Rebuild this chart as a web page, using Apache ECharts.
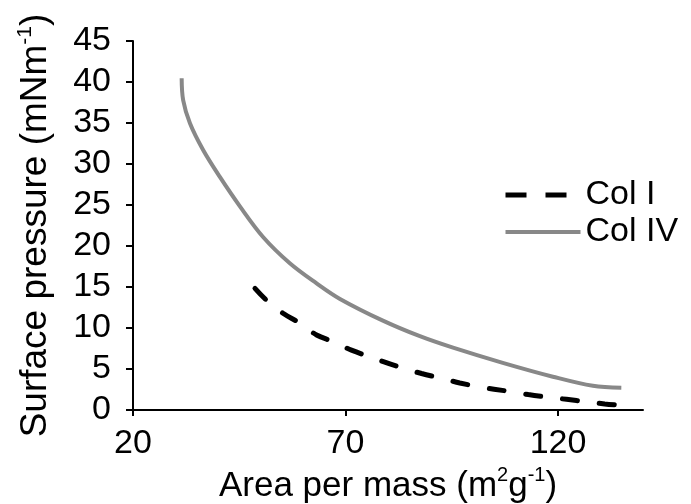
<!DOCTYPE html>
<html>
<head>
<meta charset="utf-8">
<script src="https://cdn.jsdelivr.net/npm/echarts@6/dist/echarts.min.js"></script>
<style>
html,body{margin:0;padding:0;background:#fff;}
#chart{width:691px;height:504px;}
</style>
</head>
<body>
<div id="chart"></div>
<script>
// Series names
var seriesNames = ['Col I', 'Col IV'];
// Col I (dashed black): [area per mass, surface pressure]
var colIx = [48.7, 51.4, 55.3, 59.3, 63.2, 67.1, 71.4, 78.9, 83.6, 87.9, 93.0, 96.9, 101.2, 108.7, 113.0, 117.7, 122.0, 126.7, 131.0, 135.5];
var colIy = [14.84, 13.4, 11.8, 10.57, 9.15, 8.33, 7.3, 5.9, 5.09, 4.45, 3.8, 3.3, 2.84, 2.25, 1.88, 1.55, 1.3, 1.0, 0.74, 0.55];
// Col IV (solid gray)
var colIVx = [31.45, 31.8, 33.4, 36.5, 40.4, 45.2, 50.6, 56.9, 63.2, 68.7, 78.8, 87.5, 95.3, 107.0, 118.8, 128.2, 134.9];
var colIVy = [40.45, 37.8, 34.96, 31.7, 28.45, 24.8, 21.1, 17.9, 15.45, 13.55, 10.9, 9.0, 7.6, 5.75, 4.06, 2.95, 2.72];
// Tick labels
var xTicks = [20, 70, 120];
var yTicks = [0, 5, 10, 15, 20, 25, 30, 35, 40, 45];

function pairs(xs, ys) { return xs.map(function (x, i) { return [x, ys[i]]; }); }

var FONT = 'Liberation Sans, Arial, sans-serif';
var chart = echarts.init(document.getElementById('chart'));
chart.setOption({
  animation: false,
  backgroundColor: '#fff',
  grid: { left: 133, right: 48, top: 41, bottom: 94, containLabel: false, outerBoundsMode: 'none' },
  legend: {
    orient: 'vertical',
    left: 503,
    top: 178,
    padding: 0,
    itemWidth: 75,
    itemHeight: 14,
    itemGap: 3,
    itemStyle: { color: 'rgba(0,0,0,0)', borderWidth: 0, opacity: 0 },
    textStyle: { fontFamily: FONT, fontSize: 34, color: '#000', lineHeight: 34, padding: [0, 0, 0, 0] },
    data: [
      { name: seriesNames[0], lineStyle: { type: [21, 19], cap: 'butt', width: 5, color: '#000' } },
      { name: seriesNames[1], lineStyle: { width: 4, color: '#888' } }
    ]
  },
  xAxis: {
    type: 'value',
    min: 20,
    max: 140,
    name: '{a|Area per mass (m}{s|2}{a|g}{s|-1}{a|)}',
    nameLocation: 'middle',
    nameGap: 52,
    nameTextStyle: {
      rich: {
        a: { fontFamily: FONT, fontSize: 35, color: '#000', lineHeight: 40 },
        s: { fontFamily: FONT, fontSize: 20, color: '#000', lineHeight: 20, verticalAlign: 'top' }
      }
    },
    axisLine: { show: true, onZero: false, lineStyle: { color: '#000', width: 2 } },
    axisTick: { show: true, length: 6, lineStyle: { color: '#000', width: 2 }, customValues: xTicks },
    axisLabel: { fontFamily: FONT, fontSize: 34, color: '#000', margin: 17, customValues: xTicks },
    splitLine: { show: false }
  },
  yAxis: {
    type: 'value',
    min: 0,
    max: 45,
    interval: 5,
    name: '{a|Surface pressure (mNm}{s|-1}{a|)}',
    nameLocation: 'middle',
    nameGap: 76,
    nameRotate: 90,
    nameTextStyle: {
      rich: {
        a: { fontFamily: FONT, fontSize: 37, color: '#000', lineHeight: 42 },
        s: { fontFamily: FONT, fontSize: 21, color: '#000', lineHeight: 21, verticalAlign: 'top' }
      }
    },
    axisLine: { show: true, onZero: false, lineStyle: { color: '#000', width: 2 } },
    axisTick: { show: true, length: 7, lineStyle: { color: '#000', width: 2 } },
    axisLabel: {
      fontFamily: FONT, fontSize: 34, color: '#000', margin: 22,
      formatter: function (v) { return yTicks.indexOf(v) >= 0 ? String(v) : ''; }
    },
    splitLine: { show: false }
  },
  series: [
    {
      name: seriesNames[0],
      type: 'line',
      data: pairs(colIx, colIy),
      smooth: 0.35,
      symbol: 'none',
      z: 3,
      lineStyle: { color: '#000', width: 5, type: [15, 22], cap: 'round' },
      itemStyle: { color: '#000' }
    },
    {
      name: seriesNames[1],
      type: 'line',
      data: pairs(colIVx, colIVy),
      smooth: 0.35,
      symbol: 'none',
      z: 2,
      lineStyle: { color: '#888', width: 4, type: 'solid' },
      itemStyle: { color: '#888' }
    }
  ]
});
</script>
</body>
</html>
